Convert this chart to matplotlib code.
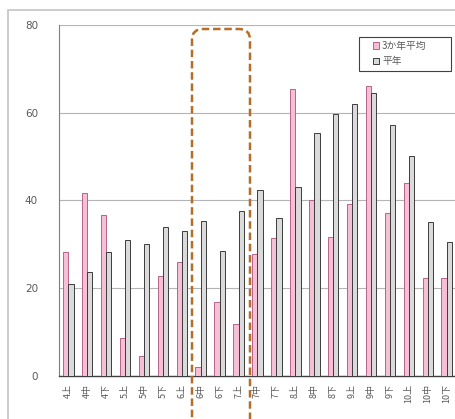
import matplotlib
matplotlib.use("Agg")
import matplotlib.pyplot as plt
import numpy as np
from matplotlib.patches import FancyBboxPatch, Rectangle

plt.rcParams['font.family'] = ['Noto Sans CJK JP', 'DejaVu Sans']

# 半旬ごとの値
periods = ["4上", "4中", "4下", "5上", "5中", "5下", "6上", "6中", "6下", "7上", "7中",
           "7下", "8上", "8中", "8下", "9上", "9中", "9下", "10上", "10中", "10下"]
avg_3yr = [28.2, 41.8, 36.8, 8.7, 4.6, 22.8, 25.9, 2.1, 16.9, 11.8, 27.7,
           31.4, 65.5, 40.1, 31.7, 39.3, 66.1, 37.1, 44.0, 22.3, 22.3]
normal = [20.9, 23.8, 28.3, 31.0, 30.1, 33.9, 33.0, 35.4, 28.5, 37.6, 42.4,
          36.1, 43.1, 55.4, 59.7, 62.1, 64.4, 57.2, 50.2, 35.0, 30.6]
yticks = [0, 20, 40, 60, 80]
series_names = ["3か年平均", "平年"]

W, H = 456, 419
fig = plt.figure(figsize=(W / 100, H / 100), dpi=100)

# 外枠(右と下は画面外へ続く)
fig.patches.append(Rectangle((8 / W, -0.2), 1.2, (H - 10) / H + 0.2,
                             transform=fig.transFigure, fill=False,
                             edgecolor="#c4c4c4", linewidth=1.2))

ax = fig.add_axes([58.8 / W, 43 / H, 397.4 / W, 351 / H])
x = np.arange(len(periods))
w = 0.28
ax.bar(x - w / 2, avg_3yr, w, color="#f6bfd6", edgecolor="#b5648a",
       linewidth=0.7, label=series_names[0], zorder=3)
ax.bar(x + w / 2, normal, w, color="#dadada", edgecolor="#3c3c3c",
       linewidth=0.7, label=series_names[1], zorder=3)

ax.set_xlim(-0.5, len(periods) - 0.5)
ax.set_ylim(0, 80)
ax.set_yticks(yticks)
ax.set_yticklabels([str(v) for v in yticks], fontsize=7.5, color="#595959",
                   family="DejaVu Sans")
ax.set_xticks(x)
ax.set_xticklabels(periods, rotation=90, fontsize=6.5, color="#595959")
ax.tick_params(axis="both", length=0, pad=6)
ax.tick_params(axis="y", pad=15)
ax.yaxis.grid(True, color="#b4b4b4", linewidth=0.8, zorder=0)
for s in ["top", "right"]:
    ax.spines[s].set_visible(False)
ax.spines["left"].set_color("#7f7f7f")
ax.spines["bottom"].set_color("#404040")
ax.spines["bottom"].set_linewidth(1.0)

# 凡例:枠は別に描く
ax.add_patch(Rectangle((359 / W, (H - 71) / H), 92 / W, 34 / H,
                       transform=fig.transFigure, fill=True,
                       facecolor="white", edgecolor="#404040",
                       linewidth=0.8, zorder=5, clip_on=False))
leg = ax.legend(loc="upper left", bbox_to_anchor=(370 / W, (H - 38) / H),
                bbox_transform=fig.transFigure, fontsize=7, frameon=False,
                handlelength=0.6, handleheight=0.6, handletextpad=0.35,
                borderpad=0.3, labelspacing=0.55, borderaxespad=0)
leg.set_zorder(6)
for t in leg.get_texts():
    t.set_color("#595959")

# 6月中旬〜7月上旬を破線で囲む
box = FancyBboxPatch((192 / W, -0.05), 58 / W, (H - 29) / H + 0.05,
                     boxstyle="round,pad=0,rounding_size=0.025",
                     transform=fig.transFigure, fill=False,
                     edgecolor="#b46e2a", linewidth=1.8,
                     linestyle=(0, (3, 1.5)), zorder=10)
fig.patches.append(box)

fig.savefig("out.png", dpi=100)
